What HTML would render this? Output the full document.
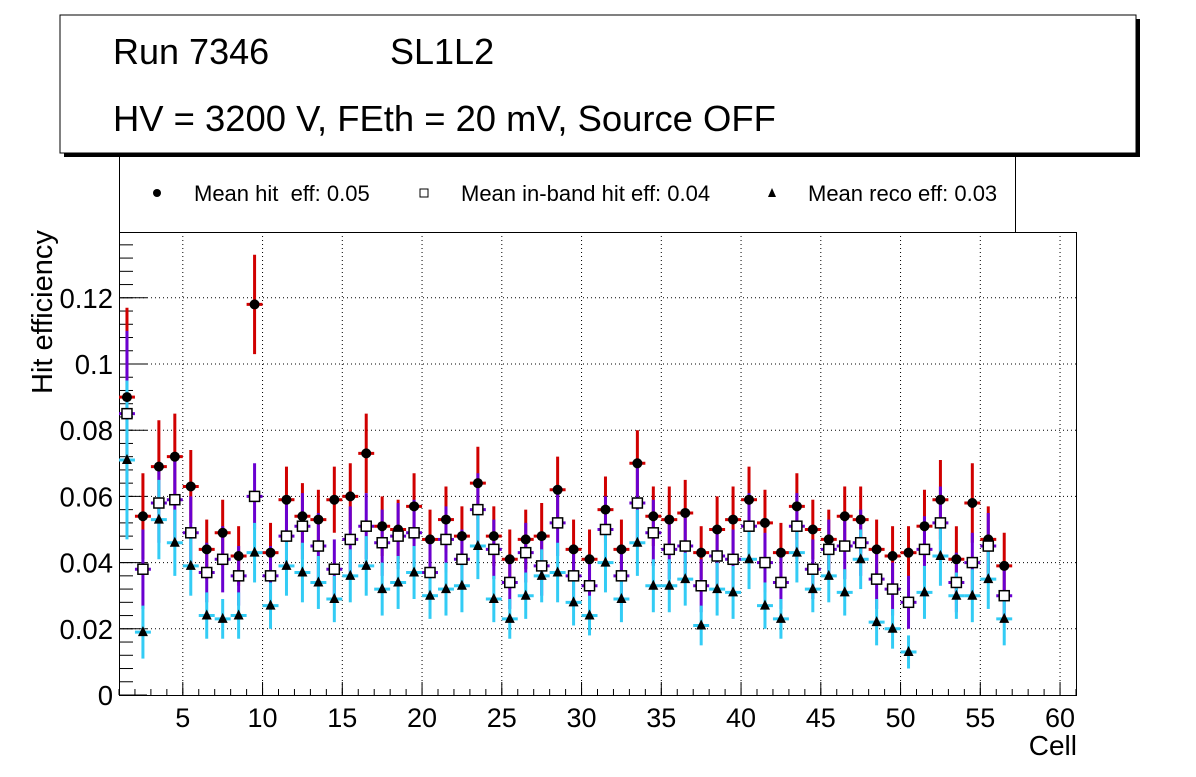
<!DOCTYPE html>
<html><head><meta charset="utf-8"><style>
body{margin:0;background:#fff;width:1196px;height:772px;overflow:hidden;font-family:"Liberation Sans",sans-serif}
text{white-space:pre}
</style></head><body>
<svg id="c" width="1196" height="772" xmlns="http://www.w3.org/2000/svg" font-family="Liberation Sans, sans-serif">
<rect x="64" y="19" width="1076" height="138" fill="#000"/>
<rect x="60" y="15" width="1076" height="138" fill="#fff" stroke="#000" stroke-width="1"/>
<text x="113" y="64" font-size="36">Run 7346</text>
<text x="390" y="64" font-size="36">SL1L2</text>
<text x="113" y="131" font-size="36.4">HV = 3200 V, FEth = 20 mV, Source OFF</text>
<g>
<line x1="119.5" y1="157" x2="119.5" y2="232" stroke="#000"/>
<line x1="1015.5" y1="157" x2="1015.5" y2="232" stroke="#000"/>
<circle cx="157" cy="193" r="4" fill="#000"/>
<text x="194" y="201" font-size="22" xml:space="preserve">Mean hit  eff: 0.05</text>
<rect x="420" y="189" width="8" height="8" fill="#fff" stroke="#000"/>
<text x="461" y="201" font-size="22">Mean in-band hit eff: 0.04</text>
<polygon points="772,188 776,197 768,197" fill="#000"/>
<text x="808" y="201" font-size="22">Mean reco eff: 0.03</text>
</g>
<g id="plot"></g>
<text transform="translate(52,394) rotate(-90)" font-size="29">Hit efficiency</text>
<text x="1077" y="755" font-size="28" text-anchor="end">Cell</text>
</svg>
<script>
const hit=[.090,.054,.069,.072,.063,.044,.049,.042,.118,.043,.059,.054,.053,.059,.060,.073,.051,.050,.057,.047,.053,.048,.064,.048,.041,.047,.048,.062,.044,.041,.056,.044,.070,.054,.053,.055,.043,.050,.053,.059,.052,.043,.057,.050,.047,.054,.053,.044,.042,.043,.051,.059,.041,.058,.047,.039];
const hitErr=[.027,.013,.014,.013,.011,.009,.010,.009,.015,.009,.010,.010,.009,.010,.010,.012,.009,.009,.010,.009,.010,.009,.011,.009,.009,.009,.010,.010,.009,.009,.010,.009,.010,.009,.010,.010,.008,.010,.010,.010,.010,.009,.010,.009,.009,.009,.010,.009,.009,.008,.011,.012,.010,.012,.010,.010];
const inband=[.085,.038,.058,.059,.049,.037,.041,.036,.060,.036,.048,.051,.045,.038,.047,.051,.046,.048,.049,.037,.047,.041,.056,.044,.034,.043,.039,.052,.036,.033,.050,.036,.058,.049,.044,.045,.033,.042,.041,.051,.040,.034,.051,.038,.044,.045,.046,.035,.032,.028,.044,.052,.034,.040,.045,.030];
const inbandErr=[.025,.012,.012,.012,.011,.009,.010,.009,.010,.009,.010,.010,.010,.009,.010,.010,.010,.010,.010,.009,.010,.009,.011,.009,.008,.009,.009,.010,.009,.008,.010,.009,.011,.010,.009,.009,.008,.009,.009,.010,.009,.008,.010,.009,.009,.010,.010,.009,.008,.008,.010,.011,.009,.009,.010,.008];
const reco=[.071,.019,.053,.046,.039,.024,.023,.024,.043,.027,.039,.037,.034,.029,.036,.039,.032,.034,.037,.030,.032,.033,.045,.029,.023,.030,.036,.037,.028,.024,.040,.029,.046,.033,.033,.035,.021,.032,.031,.041,.027,.023,.043,.032,.036,.031,.041,.022,.020,.013,.031,.042,.030,.030,.035,.023];
const recoErr=[.024,.008,.012,.010,.009,.007,.006,.007,.009,.007,.009,.009,.008,.007,.008,.009,.008,.008,.008,.007,.008,.008,.010,.007,.006,.007,.008,.009,.007,.006,.009,.007,.010,.008,.008,.008,.006,.008,.008,.009,.007,.006,.009,.007,.008,.007,.009,.007,.006,.005,.008,.009,.007,.008,.009,.008];
const xTicks=[5,10,15,20,25,30,35,40,45,50,55,60];
const yTicks=[0,0.02,0.04,0.06,0.08,0.1,0.12];
const yLabels=["0","0.02","0.04","0.06","0.08","0.1","0.12"];
const X0=119,X1=1076,Y0=695,Y1=232;
const xs=v=>X0+(v-1)*(X1-X0)/60;
const ys=v=>Y0-v*3310;
const NS="http://www.w3.org/2000/svg";
const g=document.getElementById('plot');
function mk(t,a,p){const e=document.createElementNS(NS,t);for(const k in a)e.setAttribute(k,a[k]);(p||g).appendChild(e);return e;}
const frame=mk('rect',{x:X0+.5,y:Y1+.5,width:X1-X0,height:Y0-Y1,fill:'none',stroke:'#000'});


xTicks.forEach(t=>{const x=xs(t);
 mk('line',{x1:x,y1:Y1,x2:x,y2:Y0,stroke:'#000','stroke-dasharray':'1,3'});
 mk('line',{x1:x,y1:Y0,x2:x,y2:Y0-13,stroke:'#000'});
 const l=mk('text',{x:x,y:Y0+32,'font-size':27,'text-anchor':'middle'});l.textContent=t;
 
 });
for(let v=1;v<=61;v++){const x=xs(v);mk('line',{x1:x,y1:Y0,x2:x,y2:Y0-6,stroke:'#000'});}
yTicks.forEach((t,i)=>{const y=ys(t);
 if(t>0)mk('line',{x1:X0,y1:y,x2:X1,y2:y,stroke:'#000','stroke-dasharray':'1,3'});
 mk('line',{x1:X0,y1:y,x2:X0+28,y2:y,stroke:'#000'});
 const l=mk('text',{x:X0-6,y:y+10,'font-size':27.5,'text-anchor':'end'});l.textContent=yLabels[i];
 
 });
for(let v=0.004;v<0.14;v+=0.004){const y=ys(v);if(y>Y1)mk('line',{x1:X0,y1:y,x2:X0+14,y2:y,stroke:'#000'});}
const series=[[hit,hitErr,'#d00000'],[inband,inbandErr,'#6a00d0'],[reco,recoErr,'#33ccf5']];
series.forEach(([vals,errs,col])=>{vals.forEach((v,i)=>{const c=i+1.5,x=xs(c);
 const b=mk('g',{});
 
 
 mk('line',{x1:x,y1:ys(v+errs[i]),x2:x,y2:ys(v-errs[i]),stroke:col,'stroke-width':3},b);
 mk('line',{x1:xs(c-.5),y1:ys(v),x2:xs(c+.5),y2:ys(v),stroke:col,'stroke-width':3},b);});});
hit.forEach((v,i)=>{const m=mk('circle',{cx:xs(i+1.5),cy:ys(v),r:5,fill:'#000'});
 
 });
inband.forEach((v,i)=>{const x=xs(i+1.5),y=ys(v);const m=mk('rect',{x:x-5,y:y-5,width:10,height:10,fill:'#fff',stroke:'#000','stroke-width':1.5});
 
 });
reco.forEach((v,i)=>{const x=xs(i+1.5),y=ys(v);const m=mk('polygon',{points:`${x},${y-6} ${x+5},${y+4} ${x-5},${y+4}`,fill:'#000'});
 
 });
</script>
</body></html>
